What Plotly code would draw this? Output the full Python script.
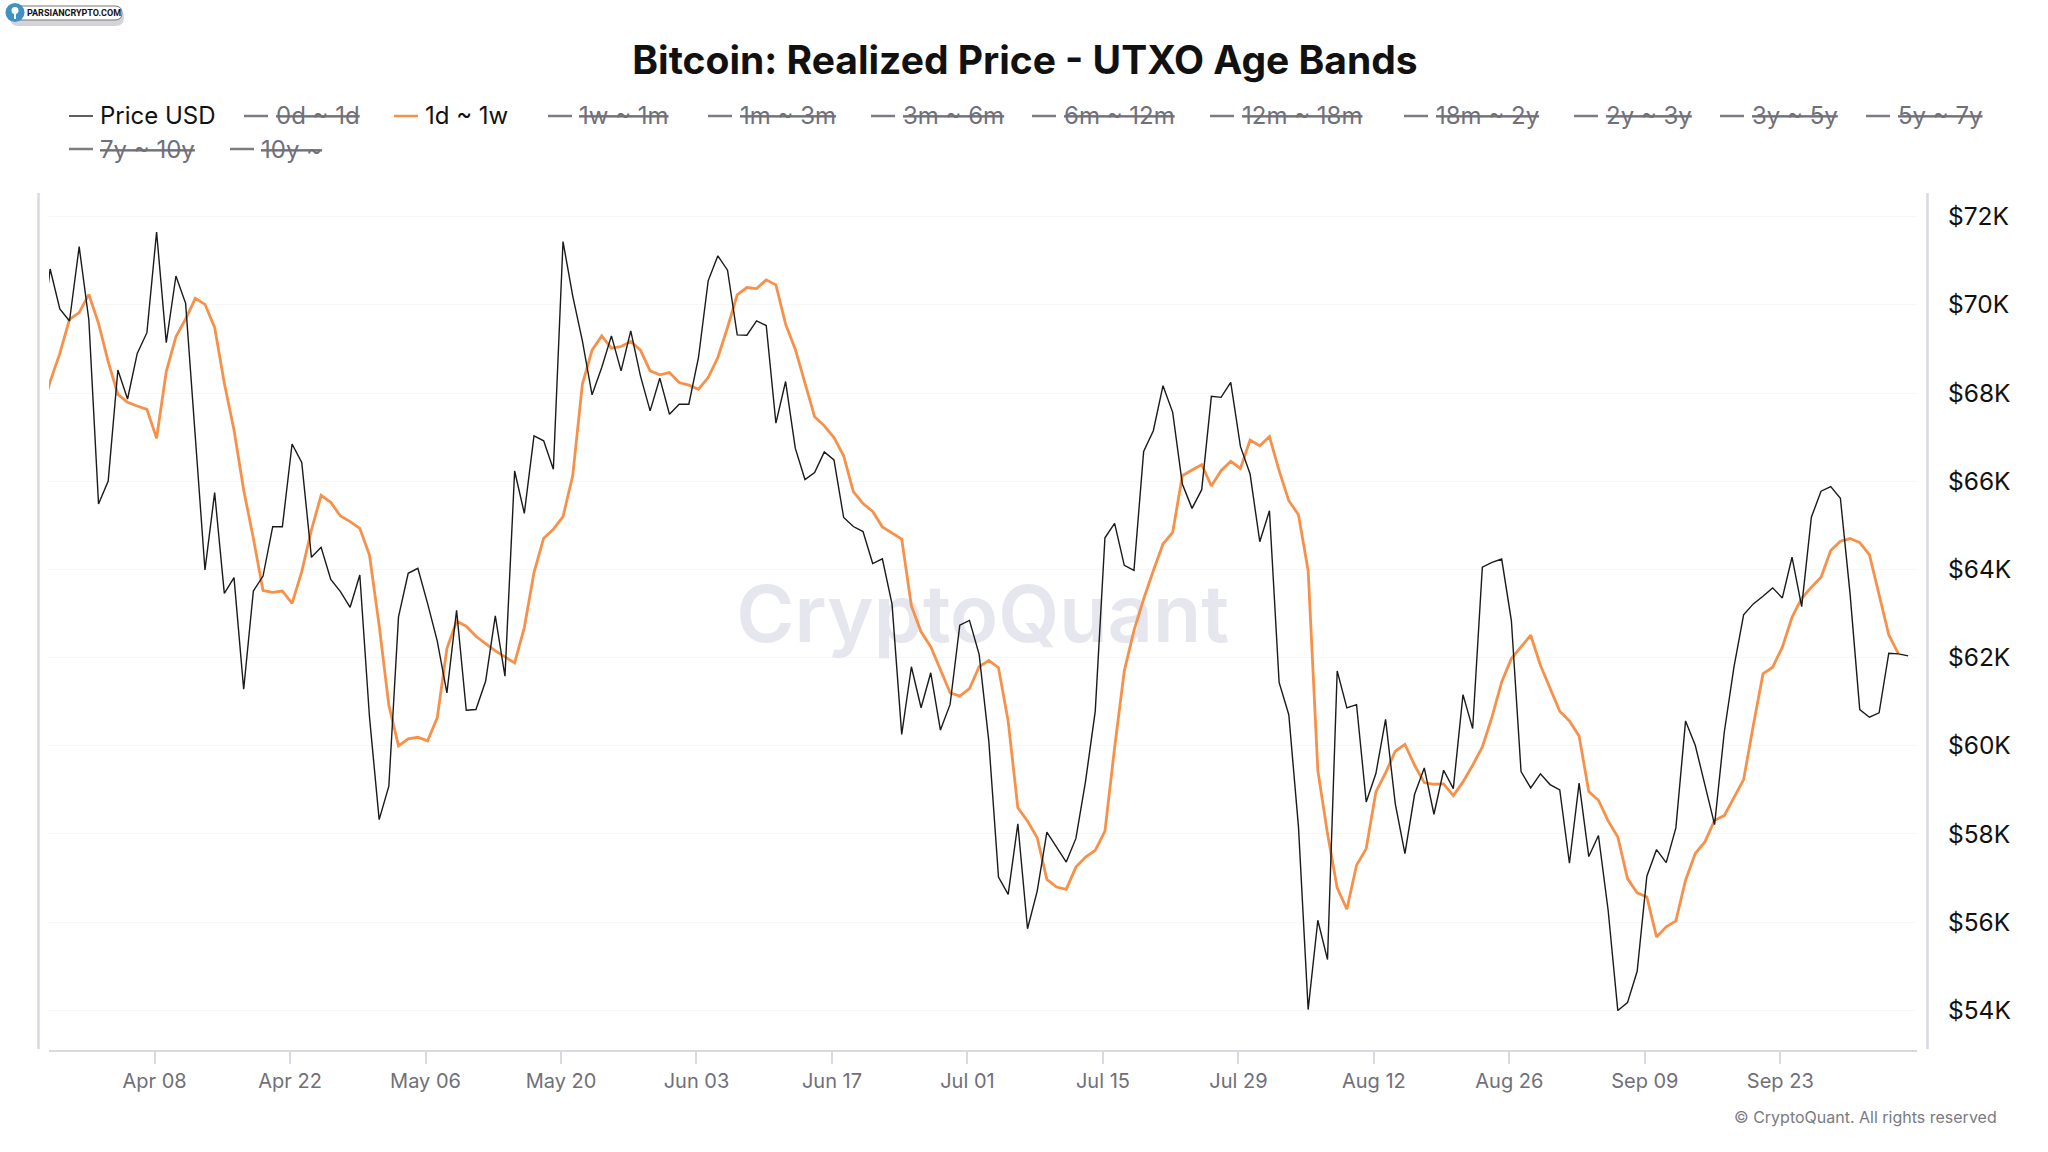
import pandas as pd
import plotly.graph_objects as go

# daily values, first point sits just left of the visible range
price_usd = [
    69000, 70813, 69906, 69634, 71320, 69656, 65483, 66005, 68522, 67865, 68900, 69369, 71652, 69142, 70654, 70034,
    67010, 63986, 65740, 63457, 63813, 61282, 63510, 63850, 64969, 64969, 66844, 66428, 64274, 64500, 63775, 63495,
    63140, 63873, 60654, 58326, 59082, 62922, 63911, 64024, 63230, 62380, 61199, 63074, 60806, 60821, 61463, 62945,
    61577, 66232, 65272, 67029, 66916, 66273, 71436, 70204, 69184, 67959, 68579, 69297, 68503, 69410, 68390, 67596,
    68337, 67520, 67747, 67747, 68806, 70544, 71111, 70786, 69320, 69312, 69637, 69531, 67316, 68261, 66749, 66039,
    66197, 66666, 66485, 65177, 64973, 64859, 64133, 64239, 63211, 60258, 61792, 60863, 61656, 60356, 60938, 62737,
    62843, 62072, 60107, 57022, 56629, 58232, 55850, 56705, 58043, 57703, 57362, 57899, 59199, 60787, 64718, 65043,
    64091, 63977, 66677, 67146, 68166, 67562, 65936, 65384, 65808, 67924, 67902, 68242, 66790, 66163, 64628, 65331,
    61438, 60705, 58160, 54017, 56043, 55151, 61698, 60858, 60934, 58727, 59369, 60601, 58689, 57555, 58900, 59498,
    58447, 59445, 59029, 61161, 60390, 64050, 64160, 64235, 62840, 59415, 59045, 59362, 59120, 58999, 57336, 59151,
    57487, 57964, 56270, 53994, 54175, 54886, 57041, 57645, 57351, 58137, 60564, 60012, 59142, 58212, 60307, 61782,
    62968, 63218, 63392, 63581, 63354, 64276, 63157, 65184, 65773, 65879, 65614, 63445, 60821, 60648, 60746, 62099,
    62084, 62039,
]
realized_1d_1w = [
    67460, 68258, 68900, 69672, 69823, 70239, 69581, 68711, 67971, 67789, 67706, 67630, 66973, 68485, 69278, 69679,
    70148, 70012, 69490, 68220, 67162, 65801, 64705, 63518, 63480, 63510, 63230, 63949, 64894, 65680, 65521, 65211,
    65083, 64931, 64327, 62730, 60919, 59997, 60155, 60193, 60110, 60632, 62204, 62824, 62711, 62484, 62318, 62151,
    62015, 61879, 62680, 63929, 64708, 64912, 65199, 66122, 68201, 68972, 69297, 69017, 69055, 69168, 68972, 68503,
    68412, 68465, 68239, 68178, 68087, 68352, 68806, 69486, 70227, 70393, 70370, 70567, 70454, 69562, 68995, 68223,
    67460, 67256, 66991, 66575, 65766, 65494, 65313, 64965, 64821, 64690, 63170, 62586, 62246, 61732, 61203, 61127,
    61294, 61792, 61936, 61770, 60560, 58595, 58292, 57914, 56969, 56795, 56742, 57249, 57476, 57627, 58065, 59955,
    61694, 62617, 63328, 63971, 64575, 64840, 66125, 66254, 66375, 65891, 66239, 66450, 66291, 66934, 66806, 67010,
    66239, 65558, 65241, 63971, 59440, 58008, 56776, 56292, 57290, 57668, 58953, 59384, 59876, 60034, 59558, 59165,
    59127, 59135, 58870, 59180, 59558, 59974, 60654, 61448, 61977, 62242, 62507, 61826, 61320, 60783, 60564, 60223,
    58961, 58764, 58296, 57933, 56988, 56663, 56572, 55665, 55892, 56028, 56950, 57555, 57819, 58311, 58417, 58818,
    59234, 60459, 61630, 61782, 62235, 62916, 63346, 63596, 63823, 64428, 64639, 64700, 64609, 64337, 63445, 62515,
    62084,
]
dates = pd.date_range("2024-03-27 05:00", periods=len(price_usd), freq="D")

x_ticks = ["2024-04-08", "2024-04-22", "2024-05-06", "2024-05-20", "2024-06-03", "2024-06-17", "2024-07-01",
           "2024-07-15", "2024-07-29", "2024-08-12", "2024-08-26", "2024-09-09", "2024-09-23"]
x_tick_labels = ["Apr 08", "Apr 22", "May 06", "May 20", "Jun 03", "Jun 17", "Jul 01",
                 "Jul 15", "Jul 29", "Aug 12", "Aug 26", "Sep 09", "Sep 23"]
y_ticks = [54000, 56000, 58000, 60000, 62000, 64000, 66000, 68000, 70000, 72000]
y_tick_labels = ["$54K", "$56K", "$58K", "$60K", "$62K", "$64K", "$66K", "$68K", "$70K", "$72K"]

legend_labels = ["Price USD", "0d ~ 1d", "1d ~ 1w", "1w ~ 1m", "1m ~ 3m", "3m ~ 6m", "6m ~ 12m", "12m ~ 18m",
                 "18m ~ 2y", "2y ~ 3y", "3y ~ 5y", "5y ~ 7y", "7y ~ 10y", "10y ~"]
legend_visible = ["Price USD", "1d ~ 1w"]

# pixel layout of the legend, (line start, text start, row centre)
legend_pos = [(69, 98, 116), (244, 274, 116), (394, 423, 116), (548, 577, 116), (708, 738, 116), (871, 901, 116),
              (1032, 1062, 116), (1210, 1240, 116), (1404, 1434, 116), (1574, 1604, 116), (1720, 1750, 116),
              (1866, 1896, 116), (69, 98, 149), (230, 259, 149)]

W, H = 2048, 1152
PLOT_L, PLOT_R, PLOT_T, PLOT_B = 49, 1917, 193, 1050
FONT = "Inter"
AXIS_COLOR = "#d9d9e3"
MUTED = "#6f7079"
ORANGE = "#f7914a"


def px(x):
    return (x - PLOT_L) / (PLOT_R - PLOT_L)


def py(y):
    return (PLOT_B - y) / (PLOT_B - PLOT_T)


def pill(x0, x1, y0, y1):
    # rounded badge outline, paper coordinates
    r = (y1 - y0) / 2
    return (f"M {px(x0 + r)} {py(y0)} L {px(x1 - r)} {py(y0)} Q {px(x1)} {py(y0)} {px(x1)} {py(y0 + r)} "
            f"Q {px(x1)} {py(y1)} {px(x1 - r)} {py(y1)} L {px(x0 + r)} {py(y1)} "
            f"Q {px(x0)} {py(y1)} {px(x0)} {py(y0 + r)} Q {px(x0)} {py(y0)} {px(x0 + r)} {py(y0)} Z")


fig = go.Figure()

# watermark as a text trace so it stays behind the lines
fig.add_trace(go.Scatter(
    x=[pd.Timestamp("2024-07-02 14:00")],
    y=[62800],
    mode="text",
    text=["CryptoQuant"],
    textposition="middle center",
    textfont=dict(family=FONT, size=79, color="#e6e6ee", weight=600),
    hoverinfo="skip",
    showlegend=False,
))
fig.add_trace(go.Scatter(
    x=dates,
    y=realized_1d_1w,
    name="1d ~ 1w",
    mode="lines",
    line=dict(color=ORANGE, width=2.8),
    showlegend=False,
))
fig.add_trace(go.Scatter(
    x=dates,
    y=price_usd,
    name="Price USD",
    mode="lines",
    line=dict(color="#1a1a1a", width=1.4),
    showlegend=False,
))

shapes = [
    # left and right axis bars
    dict(type="line", xref="paper", yref="paper", x0=px(38.5), x1=px(38.5), y0=py(193), y1=py(1049),
         line=dict(color=AXIS_COLOR, width=2.5)),
    dict(type="line", xref="paper", yref="paper", x0=px(1927.5), x1=px(1927.5), y0=py(193), y1=py(1049),
         line=dict(color=AXIS_COLOR, width=2.5)),
    # site badge
    dict(type="path", xref="paper", yref="paper", path=pill(10, 124, 9, 26),
         fillcolor="#d4d4d8", line=dict(width=0)),
    dict(type="path", xref="paper", yref="paper", path=pill(10, 122, 6, 20),
         fillcolor="#ffffff", line=dict(color="#77777d", width=1)),
    dict(type="circle", xref="paper", yref="paper", x0=px(5.5), x1=px(24.5), y0=py(3), y1=py(22),
         fillcolor="#3f93c4", line=dict(width=0)),
    dict(type="circle", xref="paper", yref="paper", x0=px(11.5), x1=px(18.5), y0=py(7), y1=py(14),
         fillcolor="#ffffff", line=dict(width=0)),
    dict(type="line", xref="paper", yref="paper", x0=px(15), x1=px(15), y0=py(13), y1=py(19),
         line=dict(color="#ffffff", width=2)),
]
annotations = [
    dict(text="PARSIANCRYPTO.COM", x=px(25), y=py(13), xref="paper", yref="paper", xanchor="left", yanchor="middle",
         showarrow=False, font=dict(family="Liberation Sans Narrow, Roboto", size=9, color="#111111", weight=700)),
    dict(text="© CryptoQuant. All rights reserved", x=px(1999), y=py(1117), xref="paper", yref="paper",
         xanchor="right", yanchor="middle", showarrow=False, font=dict(family=FONT, size=16, color="#7a7a82")),
]

for label, (line_x, text_x, row_y) in zip(legend_labels, legend_pos):
    active = label in legend_visible
    if label == "1d ~ 1w":
        line_color, line_w = ORANGE, 2.5
    elif label == "Price USD":
        line_color, line_w = "#1a1a1a", 1.4
    else:
        line_color, line_w = "#7c7c86", 2.5
    shapes.append(dict(type="line", xref="paper", yref="paper", x0=px(line_x), x1=px(line_x + 24),
                       y0=py(row_y), y1=py(row_y), line=dict(color=line_color, width=line_w)))
    annotations.append(dict(
        text=label, x=px(text_x), y=py(row_y), xref="paper", yref="paper", xanchor="left", yanchor="middle",
        showarrow=False,
        font=dict(family=FONT, size=24, color="#111111" if active else MUTED,
                  lineposition="none" if active else "through"),
    ))

fig.update_layout(
    width=W,
    height=H,
    margin=dict(l=PLOT_L, r=W - PLOT_R, t=PLOT_T, b=H - PLOT_B, pad=0),
    paper_bgcolor="#ffffff",
    plot_bgcolor="#ffffff",
    showlegend=False,
    title=dict(text="<b>Bitcoin: Realized Price - UTXO Age Bands</b>", x=1025 / W, xanchor="center",
               y=1 - 60 / H, yanchor="middle", xref="container", yref="container",
               font=dict(family=FONT, size=39, color="#111111")),
    xaxis=dict(
        type="date",
        range=["2024-03-28 02:10", "2024-10-07 03:00"],
        tickmode="array",
        tickvals=x_ticks,
        ticktext=x_tick_labels,
        showgrid=False,
        zeroline=False,
        showline=True,
        linecolor=AXIS_COLOR,
        linewidth=1.5,
        ticks="outside",
        ticklen=12,
        tickcolor=AXIS_COLOR,
        tickwidth=1.5,
        ticklabelstandoff=0,
        tickfont=dict(family=FONT, size=20, color=MUTED),
    ),
    yaxis=dict(
        side="right",
        range=[53100, 72537],
        tickmode="array",
        tickvals=y_ticks,
        ticktext=y_tick_labels,
        showgrid=True,
        gridcolor="#f7f7f9",
        gridwidth=1,
        zeroline=False,
        showline=False,
        ticks="",
        ticklabelstandoff=30,
        tickfont=dict(family=FONT, size=24.5, color="#111111"),
    ),
    shapes=shapes,
    annotations=annotations,
)

fig.write_html("out.html", config={"displayModeBar": False}, post_script="document.body.style.margin='0';")
